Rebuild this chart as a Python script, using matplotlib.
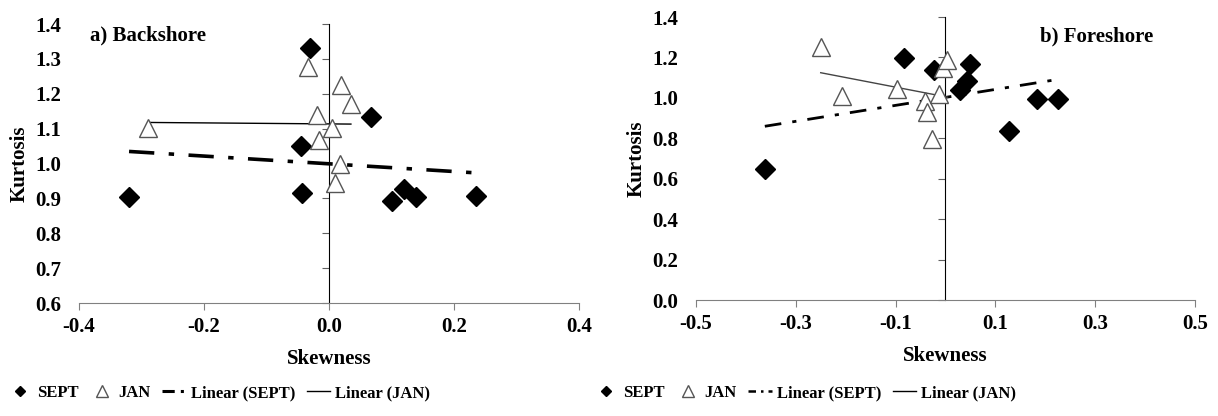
import numpy as np
import matplotlib
matplotlib.use('Agg')
import matplotlib.pyplot as plt
from matplotlib.lines import Line2D

plt.rcParams['font.family'] = ['Liberation Serif', 'DejaVu Serif']
plt.rcParams['font.weight'] = 'bold'

# a) Backshore
back_sept_skew = [-0.320, -0.030, -0.045, -0.044, 0.067, 0.100, 0.120, 0.139, 0.235]
back_sept_kurt = [0.905, 1.332, 1.050, 0.915, 1.134, 0.893, 0.926, 0.905, 0.908]
back_jan_skew = [-0.289, -0.034, -0.020, -0.016, 0.004, 0.019, 0.035, 0.018, 0.009]
back_jan_kurt = [1.101, 1.278, 1.139, 1.068, 1.101, 1.225, 1.171, 0.998, 0.945]

# b) Foreshore
fore_sept_skew = [-0.362, -0.083, -0.022, 0.050, 0.044, 0.029, 0.183, 0.225, 0.127]
fore_sept_kurt = [0.650, 1.198, 1.138, 1.166, 1.081, 1.041, 0.995, 0.992, 0.836]
fore_jan_skew = [-0.250, -0.208, -0.098, -0.041, -0.038, -0.028, -0.012, -0.004, 0.004]
fore_jan_kurt = [1.254, 1.008, 1.045, 0.984, 0.928, 0.797, 1.017, 1.150, 1.188]

back_xticks = [-0.4, -0.2, 0.0, 0.2, 0.4]
back_yticks = [0.6, 0.7, 0.8, 0.9, 1.0, 1.1, 1.2, 1.3, 1.4]
fore_xticks = [-0.5, -0.3, -0.1, 0.1, 0.3, 0.5]
fore_yticks = [0.0, 0.2, 0.4, 0.6, 0.8, 1.0, 1.2, 1.4]

FS = 15
sept_style = dict(marker='D', ms=10, color='black', ls='none')
jan_style = dict(marker='^', ms=13, mfc='white', mec='#555555', mew=1, ls='none')


def trend(x, y):
    k, b = np.polyfit(x, y, 1)
    xs = np.array([min(x), max(x)])
    return xs, k * xs + b


def setup(ax, xticks, yticks):
    ax.set_xlim(xticks[0], xticks[-1])
    ax.set_ylim(yticks[0], yticks[-1])
    ax.spines['top'].set_visible(False)
    ax.spines['right'].set_visible(False)
    ax.spines['bottom'].set_color('#808080')
    ax.spines['left'].set_position(('data', 0))
    ax.spines['left'].set_color('black')
    ax.set_xticks(xticks)
    ax.set_xticklabels(['%.1f' % v for v in xticks], fontsize=FS, fontweight='bold')
    ax.set_yticks(yticks)
    ax.tick_params(axis='x', direction='out', length=5, color='#808080', pad=5)
    ax.tick_params(axis='y', direction='out', length=5, color='#606060', labelleft=False)
    sec = ax.secondary_yaxis('left')
    sec.spines['left'].set_visible(False)
    sec.set_yticks(yticks)
    sec.set_yticklabels(['%.1f' % v for v in yticks], fontsize=FS, fontweight='bold')
    sec.tick_params(length=0, pad=13)
    sec.set_ylabel('Kurtosis', fontsize=FS, fontweight='bold', labelpad=4)
    ax.set_xlabel('Skewness', fontsize=FS, fontweight='bold', labelpad=9)


fig = plt.figure(figsize=(12.18, 4.16), dpi=100)

ax1 = fig.add_axes([0.0649, 0.2716, 0.4105, 0.6707])
setup(ax1, back_xticks, back_yticks)
ax1.plot(back_sept_skew, back_sept_kurt, **sept_style, zorder=3)
ax1.plot(back_jan_skew, back_jan_kurt, **jan_style, zorder=4)
tx, ty = trend(back_sept_skew, back_sept_kurt)
ax1.plot(tx, ty, color='black', lw=2.6, dashes=[7, 4, 1.5, 4], zorder=2)
tx, ty = trend(back_jan_skew, back_jan_kurt)
ax1.plot(tx, ty, color='black', lw=1, zorder=2)
ax1.text(0.022, 0.96, 'a) Backshore', transform=ax1.transAxes, fontsize=15,
         fontweight='bold', ha='left', va='center')

ax2 = fig.add_axes([0.5714, 0.2788, 0.4097, 0.6803])
setup(ax2, fore_xticks, fore_yticks)
ax2.plot(fore_sept_skew, fore_sept_kurt, **sept_style, zorder=3)
ax2.plot(fore_jan_skew, fore_jan_kurt, **jan_style, zorder=4)
tx, ty = trend(fore_sept_skew, fore_sept_kurt)
ax2.plot(tx, ty, color='black', lw=2, dashes=[6, 4, 1.5, 4], zorder=2)
tx, ty = trend(fore_jan_skew, fore_jan_kurt)
ax2.plot(tx, ty, color='#444444', lw=1, zorder=2)
ax2.text(0.69, 0.93, 'b) Foreshore', transform=ax2.transAxes, fontsize=15,
         fontweight='bold', ha='left', va='center')


def legend_at(xc, sept_dashes, sept_lw):
    handles = [
        Line2D([], [], marker='D', ms=5, color='black', ls='none'),
        Line2D([], [], marker='^', ms=8, mfc='white', mec='#555555', mew=1, ls='none'),
        Line2D([], [], color='black', lw=sept_lw, dashes=sept_dashes),
        Line2D([], [], color='black', lw=1),
    ]
    labels = ['SEPT', 'JAN', 'Linear (SEPT)', 'Linear (JAN)']
    fig.legend(handles, labels, loc='center', bbox_to_anchor=(xc, 0.055), ncol=4,
               frameon=False, prop={'size': 12, 'weight': 'bold'},
               handlelength=1.4, handletextpad=0.3, columnspacing=0.7)


legend_at(0.18, [4, 2, 1, 2], 2.2)
legend_at(0.661, [3, 2, 1, 2], 1.8)

plt.savefig('out.png', dpi=100)
